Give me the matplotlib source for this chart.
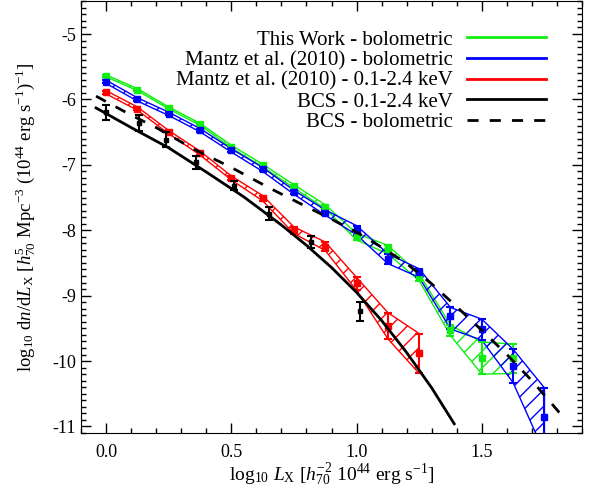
import matplotlib
matplotlib.use("Agg")
import matplotlib.pyplot as plt
import numpy as np
from matplotlib.ticker import MultipleLocator
from matplotlib.lines import Line2D

plt.rcParams['font.family'] = ['Liberation Serif', 'DejaVu Serif']
plt.rcParams['mathtext.fontset'] = 'custom'
plt.rcParams['mathtext.rm'] = 'Liberation Serif'
plt.rcParams['mathtext.it'] = 'Liberation Serif:italic'
plt.rcParams['mathtext.bf'] = 'Liberation Serif:bold'
plt.rcParams['font.size'] = 12

# ---------------- data ----------------
lx_bins = [0.0, 0.125, 0.25, 0.375, 0.5, 0.625, 0.75, 0.875, 1.0, 1.125, 1.25, 1.375, 1.5, 1.625, 1.75]

green_y  = [-5.64, -5.85, -6.13, -6.38, -6.72, -7.01, -7.33, -7.64, -8.10, -8.29, -8.72, -9.53, -9.95, -9.96]
green_lo = [-5.655, -5.865, -6.145, -6.395, -6.74, -7.03, -7.355, -7.67, -8.15, -8.36, -8.77, -9.61, -10.20, -10.19]
green_hi = [-5.625, -5.835, -6.115, -6.365, -6.70, -6.99, -7.305, -7.61, -8.05, -8.23, -8.67, -9.45, -9.71, -9.74]

blue_y  = [-5.73, -6.00, -6.22, -6.47, -6.78, -7.07, -7.42, -7.73, -8.00, -8.44, -8.64, -9.31, -9.51, -10.07, -10.85]
blue_lo = [-5.755, -6.025, -6.245, -6.495, -6.805, -7.10, -7.45, -7.77, -8.07, -8.51, -8.72, -9.51, -9.68, -10.33, -11.40]
blue_hi = [-5.705, -5.975, -6.195, -6.445, -6.755, -7.04, -7.39, -7.69, -7.93, -8.36, -8.59, -9.18, -9.36, -9.82, -10.41]

red_y  = [-5.89, -6.14, -6.50, -6.82, -7.20, -7.51, -8.00, -8.25, -8.80, -9.46, -9.88]
red_lo = [-5.915, -6.165, -6.525, -6.85, -7.23, -7.55, -8.05, -8.31, -8.92, -9.66, -10.19]
red_hi = [-5.865, -6.115, -6.475, -6.79, -7.17, -7.47, -7.95, -8.18, -8.72, -9.26, -9.58]

bcs_x   = [0.0, 0.133, 0.241, 0.361, 0.51, 0.65, 0.817, 1.014]
bcs_y   = [-6.20, -6.36, -6.62, -6.96, -7.32, -7.75, -8.18, -9.24]
bcs_err = [0.115, 0.12, 0.115, 0.10, 0.07, 0.10, 0.09, 0.145]

bcs_fit_x = [-0.04, 0.1, 0.25, 0.4, 0.55, 0.7, 0.8, 0.9, 1.0, 1.1, 1.2, 1.3, 1.39]
bcs_fit_y = [-6.13, -6.43, -6.74, -7.11, -7.49, -7.92, -8.23, -8.57, -8.95, -9.38, -9.87, -10.41, -10.96]

bcs_bol_x = [-0.04, 0.1, 0.2, 0.35, 0.5, 0.65, 0.8, 0.9, 1.0, 1.1, 1.2, 1.3, 1.4, 1.5, 1.6, 1.7, 1.81]
bcs_bol_y = [-5.95, -6.24, -6.43, -6.76, -7.04, -7.35, -7.64, -7.83, -8.03, -8.26, -8.51, -8.82, -9.17, -9.53, -9.90, -10.30, -10.79]

labels = ["This Work - bolometric", "Mantz et al. (2010) - bolometric",
          "Mantz et al. (2010) - 0.1-2.4 keV", "BCS - 0.1-2.4 keV", "BCS - bolometric"]

GREEN, BLUE, RED = '#11ee11', '#0000ff', '#ff0000'

fig = plt.figure(figsize=(5.97, 4.96), dpi=100)
ax = fig.add_axes([81/597, 63/496, (582-81)/597, (433-1.3)/496])

def band(y, lo, hi, color):
    n = len(y)
    x = np.array(lx_bins[:n])
    y = np.array(y); lo = np.array(lo); hi = np.array(hi)
    ax.fill_between(x, lo, hi, facecolor='none', edgecolor=color, hatch='//', linewidth=1.0, zorder=2)
    ax.errorbar(x, y, yerr=[y - lo, hi - y], fmt='s', ms=5, color=color, ecolor=color,
                elinewidth=1.5, capsize=3, capthick=1.5, zorder=3)

band(green_y, green_lo, green_hi, GREEN)
band(blue_y, blue_lo, blue_hi, BLUE)
band(red_y, red_lo, red_hi, RED)

ax.plot(bcs_fit_x, bcs_fit_y, color='black', lw=2.0, zorder=4)
ax.plot(bcs_bol_x, bcs_bol_y, color='black', lw=2.0, ls=(0, (4, 4)), zorder=4)
ax.errorbar(bcs_x, bcs_y, yerr=bcs_err, fmt='s', ms=3.5, color='black', elinewidth=1.5,
            capsize=3, capthick=1.5, zorder=5)

ax.set_xlim(-0.1, 1.9)
ax.set_ylim(-11.1, -4.5)
ax.xaxis.set_major_locator(MultipleLocator(0.5))
ax.xaxis.set_minor_locator(MultipleLocator(0.1))
ax.yaxis.set_major_locator(MultipleLocator(1))
ax.yaxis.set_minor_locator(MultipleLocator(0.1))
ax.xaxis.set_major_formatter(matplotlib.ticker.FormatStrFormatter('%.1f'))
ax.yaxis.set_major_formatter(matplotlib.ticker.FuncFormatter(lambda v, p: '%d' % round(v)))
ax.tick_params(which='both', direction='in', top=True, right=True, labelsize=13)
ax.tick_params(which='major', length=7, width=1)
ax.tick_params(which='minor', length=3.6, width=1)
ax.tick_params(axis='x', pad=8)

ax.set_xlabel(r'log$_{10}$ $L_{\rm X}$ [$h_{70}^{-2}$ 10$^{44}$ erg s$^{-1}$]', fontsize=14, labelpad=0)
ax.set_ylabel(r'log$_{10}$ d$n$/d$L_{\rm X}$ [$h_{70}^{5}$ Mpc$^{-3}$ (10$^{44}$ erg s$^{-1}$)$^{-1}$]',
              fontsize=13.5, labelpad=10)

handles = [Line2D([], [], color=GREEN, lw=2), Line2D([], [], color=BLUE, lw=2),
           Line2D([], [], color=RED, lw=2), Line2D([], [], color='black', lw=2),
           Line2D([], [], color='black', lw=2, ls=(0, (4, 4)))]
ax.legend(handles, labels, loc='upper right', bbox_to_anchor=(0.995, 1.0105), frameon=False,
          markerfirst=False, handlelength=3.8, handletextpad=0.67, labelspacing=0.05,
          borderaxespad=1.2, fontsize=15)

fig.savefig('out.png', dpi=100)
